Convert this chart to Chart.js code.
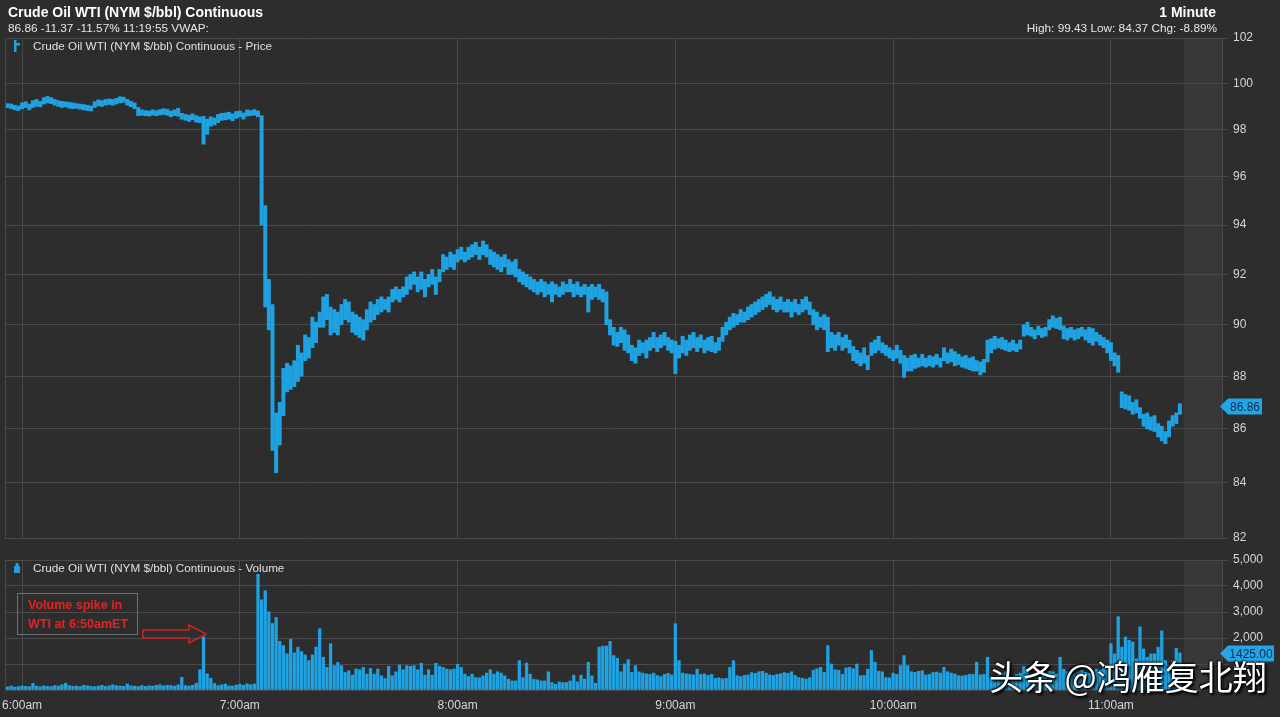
<!DOCTYPE html>
<html>
<head>
<meta charset="utf-8">
<script src="https://cdn.jsdelivr.net/npm/chart.js@4.4.1/dist/chart.umd.min.js"></script>
<style>
  body { margin: 0; background: #2d2d2d; }
  #wrap { position: relative; width: 1280px; height: 717px; overflow: hidden; font-family: "Liberation Sans", Arial, sans-serif; }
  canvas { position: absolute; left: 0; }
  .txt { position: absolute; white-space: nowrap; }
  .title { left: 8px; top: 4px; font: bold 14px/16px "Liberation Sans", Arial, sans-serif; color: #ffffff; }
  .sub { left: 8px; top: 21px; font: 11.8px/14px "Liberation Sans", Arial, sans-serif; color: #e6e6e6; }
  .rtitle { right: 64px; top: 4px; font: bold 14px/16px "Liberation Sans", Arial, sans-serif; color: #ffffff; }
  .rsub { right: 63px; top: 21px; font: 11.8px/14px "Liberation Sans", Arial, sans-serif; color: #e6e6e6; }
  .legend { left: 33px; font: 11.7px/14px "Liberation Sans", Arial, sans-serif; color: #e0e0e0; }
  .note { left: 17px; top: 593px; width: 121px; height: 42px; border: 1px solid #707070;
          font: bold 12.5px/19px "Liberation Sans", Arial, sans-serif; color: #e52222; padding: 2px 0 0 10px; box-sizing: border-box; }
  .mark { left: 989px; top: 656px; font: 34px/40px "Noto Sans CJK SC", sans-serif; color: #ffffff;
          text-shadow: 1px 1px 2px #000, -1px -1px 2px #000, 2px 2px 3px #000; }
</style>
</head>
<body>
<div id="wrap">
  <canvas id="priceCanvas" width="1280" height="548" style="top:0"></canvas>
  <canvas id="volCanvas" width="1280" height="169" style="top:549px"></canvas>

  <div class="txt title">Crude Oil WTI (NYM $/bbl) Continuous</div>
  <div class="txt sub">86.86 -11.37 -11.57% 11:19:55 VWAP:</div>
  <div class="txt rtitle">1 Minute</div>
  <div class="txt rsub">High: 99.43 Low: 84.37 Chg: -8.89%</div>

  <svg style="position:absolute;left:12px;top:40px" width="10" height="12">
    <rect x="2" y="0" width="2.5" height="12" fill="#1fa2e2"/><rect x="4" y="3" width="4" height="2.5" fill="#1fa2e2"/>
  </svg>
  <div class="txt legend" style="top:39px">Crude Oil WTI (NYM $/bbl) Continuous - Price</div>
  <svg style="position:absolute;left:13px;top:562px" width="9" height="12">
    <rect x="1" y="4" width="6" height="7" fill="#1fa2e2"/><rect x="2.5" y="1" width="3" height="4" fill="#1fa2e2"/>
  </svg>
  <div class="txt legend" style="top:561px">Crude Oil WTI (NYM $/bbl) Continuous - Volume</div>

  <div class="txt note">Volume spike in<br>WTI at 6:50amET</div>
  <svg style="position:absolute;left:0;top:0" width="1280" height="717">
    <polygon points="143,630 189,630 189,625 206,634 189,643 189,638 143,638" fill="none" stroke="#d42020" stroke-width="1.6"/>
  </svg>

  <div class="txt mark">头条 @鸿雁复北翔</div>
</div>

<script>
// minutes counted from 6:00am, first bar is 5:56am
const firstMinute = -4
const hourTicks = [0, 60, 120, 180, 240, 300]
const hourLabels = ["6:00am", "7:00am", "8:00am", "9:00am", "10:00am", "11:00am"]
const priceTicks = [82, 84, 86, 88, 90, 92, 94, 96, 98, 100, 102]
const volumeTicks = [0, 1000, 2000, 3000, 4000, 5000]
const lastClose = 86.86

const priceHigh = [
  99.12,99.10,99.05,99.02,99.15,99.20,99.10,99.25,99.30,99.22,
  99.38,99.43,99.38,99.30,99.25,99.22,99.20,99.18,99.15,99.12,
  99.10,99.08,99.05,99.02,99.20,99.28,99.25,99.30,99.32,99.30,
  99.35,99.42,99.40,99.30,99.22,99.15,98.95,98.85,98.82,98.80,
  98.85,98.82,98.86,98.90,98.88,98.80,98.85,98.92,98.70,98.65,
  98.62,98.68,98.60,98.55,98.57,98.45,98.55,98.50,98.65,98.70,
  98.72,98.75,98.68,98.78,98.80,98.72,98.85,98.82,98.86,98.80,
  98.60,94.80,91.80,90.80,86.60,87.00,88.30,88.50,88.40,88.60,
  89.20,88.90,89.60,89.50,90.30,90.10,90.50,91.10,91.20,90.70,
  90.60,90.50,90.80,91.00,90.90,90.50,90.40,90.30,90.20,90.60,
  90.90,90.80,91.00,91.10,91.00,91.10,91.40,91.50,91.40,91.50,
  91.90,92.00,92.10,91.90,92.10,91.80,92.00,92.20,91.90,92.20,
  92.80,92.70,92.90,92.80,93.00,93.10,92.90,93.10,93.20,93.30,
  93.10,93.35,93.20,93.00,92.90,92.80,92.70,92.80,92.60,92.50,
  92.60,92.20,92.10,92.00,91.90,91.80,91.70,91.80,91.70,91.60,
  91.70,91.60,91.50,91.70,91.60,91.80,91.60,91.70,91.50,91.60,
  91.50,91.60,91.50,91.60,91.40,91.30,90.20,89.90,89.70,89.90,
  89.80,89.60,89.20,89.10,89.40,89.30,89.40,89.50,89.70,89.50,
  89.60,89.70,89.50,89.40,89.35,89.20,89.55,89.40,89.60,89.70,
  89.50,89.60,89.40,89.50,89.55,89.30,89.50,89.90,90.10,90.30,
  90.45,90.40,90.60,90.50,90.70,90.80,90.90,91.00,91.10,91.20,
  91.30,91.10,91.00,91.10,90.90,91.00,90.90,91.00,90.80,91.00,
  91.10,90.90,90.60,90.50,90.30,90.40,90.30,89.70,89.60,89.70,
  89.50,89.60,89.40,89.15,89.00,88.90,89.10,88.80,89.30,89.40,
  89.55,89.30,89.20,89.10,89.00,89.20,89.00,88.80,88.70,88.80,
  88.85,88.70,88.85,88.70,88.80,88.75,88.85,88.70,89.10,88.90,
  89.05,88.95,88.85,88.75,88.80,88.70,88.75,88.60,88.55,88.65,
  89.40,89.45,89.55,89.45,89.50,89.40,89.30,89.40,89.25,89.40,
  90.00,90.10,89.90,89.80,89.95,89.85,89.90,90.20,90.35,90.25,
  90.30,89.95,89.85,89.90,89.80,89.85,89.90,89.80,89.90,89.85,
  89.70,89.60,89.50,89.40,89.30,88.90,88.80,87.40,87.30,87.25,
  87.00,87.10,86.80,86.55,86.60,86.45,86.50,86.20,86.10,85.90,
  86.30,86.50,86.60,86.95
]

const priceLow = [
  98.95,98.90,98.85,98.82,98.90,98.95,98.85,98.95,99.00,98.98,
  99.10,99.15,99.12,99.05,99.00,98.95,98.98,98.92,98.90,98.92,
  98.88,98.85,98.82,98.80,98.95,99.02,99.00,99.05,99.08,99.05,
  99.10,99.15,99.18,99.05,98.98,98.90,98.60,98.62,98.60,98.58,
  98.62,98.60,98.63,98.65,98.62,98.55,98.60,98.58,98.45,98.40,
  98.35,98.42,98.32,98.30,97.38,97.80,98.15,98.20,98.30,98.40,
  98.42,98.45,98.38,98.48,98.55,98.45,98.58,98.60,98.62,98.55,
  94.00,90.70,89.80,85.20,84.37,85.40,86.50,87.40,87.50,87.60,
  87.80,88.00,88.60,88.70,89.10,89.30,89.90,89.90,90.20,89.60,
  89.70,89.60,90.00,90.20,90.10,89.70,89.60,89.50,89.40,89.80,
  90.10,90.20,90.40,90.50,90.60,90.50,90.90,91.00,90.90,91.10,
  91.20,91.40,91.60,91.30,91.40,91.10,91.50,91.60,91.20,91.70,
  92.10,92.20,92.30,92.20,92.50,92.60,92.50,92.60,92.70,92.80,
  92.60,92.80,92.70,92.40,92.30,92.20,92.10,92.30,92.00,92.00,
  91.90,91.70,91.60,91.50,91.40,91.30,91.20,91.30,91.10,91.20,
  90.90,91.20,91.10,91.20,91.30,91.30,91.10,91.20,91.10,91.20,
  90.50,91.00,91.10,91.00,90.90,90.00,89.60,89.20,89.15,89.30,
  89.00,88.90,88.60,88.50,88.80,88.90,88.70,89.00,89.10,88.95,
  89.10,89.20,89.00,88.90,88.10,88.70,88.90,88.80,89.00,89.10,
  88.95,89.10,88.90,89.00,88.95,88.90,89.00,89.35,89.60,89.80,
  89.90,90.00,90.10,90.10,90.20,90.30,90.40,90.50,90.60,90.70,
  90.80,90.60,90.50,90.60,90.50,90.50,90.30,90.50,90.40,90.50,
  90.60,90.40,90.00,89.80,89.90,89.80,88.95,89.10,89.00,89.20,
  89.00,89.10,88.90,88.60,88.50,88.40,88.50,88.25,88.80,88.90,
  89.00,88.90,88.80,88.70,88.60,88.70,88.50,87.95,88.20,88.20,
  88.30,88.35,88.40,88.35,88.40,88.35,88.45,88.35,88.60,88.50,
  88.55,88.40,88.45,88.35,88.30,88.25,88.20,88.20,88.05,88.15,
  88.55,88.90,89.05,89.10,89.05,89.00,88.95,89.00,88.95,89.05,
  89.55,89.60,89.55,89.45,89.60,89.50,89.55,89.80,89.90,89.85,
  89.80,89.45,89.40,89.50,89.40,89.45,89.55,89.40,89.30,89.20,
  89.35,89.20,89.10,88.90,88.60,88.40,88.15,86.80,86.75,86.70,
  86.55,86.60,86.40,86.10,86.00,85.95,85.90,85.70,85.55,85.45,
  85.70,86.10,86.20,86.55
]

const volume = [
  120,150,110,130,160,140,130,250,150,120,
  160,140,130,170,150,200,260,170,140,150,
  130,180,160,140,130,150,180,140,160,200,
  170,150,140,230,160,150,130,170,140,160,
  150,180,200,160,180,170,150,200,490,170,
  150,180,260,780,
  2050,620,450,250,170,200,230,160,150,190,220,180,240,200,230,
  4450,3470,3820,3010,2560,2790,
  1870,1710,1390,1950,1430,1650,1480,1350,1130,1350,1650,
  2360,1260,870,1780,935,1060,935,675,740,570,805,
  780,870,610,830,610,805,545,440,910,545,700,
  960,780,935,910,935,780,1025,570,780,570,1025,
  910,870,805,780,805,985,870,610,520,610,480,
  470,545,650,780,610,700,650,545,415,350,350,1130,
  480,1040,610,415,390,350,350,700,285,220,
  310,285,285,350,570,310,570,415,1065,545,260,
  1650,1690,1690,1870,1325,1220,700,1000,1170,675,935,700,
  650,620,600,650,560,520,600,640,580,
  2550,
  1130,650,620,600,580,800,600,620,560,600,
  450,470,430,450,870,1130,550,520,560,580,
  670,640,700,720,650,580,560,600,620,670,
  640,700,560,480,450,420,470,760,820,870,
  680,1710,1000,780,760,600,850,870,820,1000,
  550,560,800,1520,1070,720,700,480,470,650,
  600,935,1325,935,700,680,720,740,580,600,
  670,690,650,870,700,650,620,550,540,560,
  600,600,1070,580,600,1260,
  520,480,560,640,700,580,520,600,650,900,
  760,620,580,540,600,680,720,700,600,1260,
  800,700,650,620,700,760,680,640,720,800,
  760,850,900,
  1780,1390,2820,1650,2040,1910,1845,1200,2430,1580,
  1260,1390,1390,1650,2270,1130,935,1130,1600,1425
]

const BLUE = "#1fa2e2"
const GRID = "#4a4a4a"
const TEXT = "#d6d6d6"
const FONT = "'Liberation Sans', Arial, sans-serif"
Chart.defaults.font.family = FONT

const xMin = -4.7
const xMax = 330.6
const futureFrom = 320

const priceBars = priceHigh.map((h, i) => ({ x: firstMinute + i, y: [priceLow[i], h] }))
const volumeBars = volume.map((v, i) => ({ x: firstMinute + i, y: v }))

// cadre, zone grisée à droite (après la dernière barre)
const panelFrame = {
  id: "panelFrame",
  beforeDraw(chart) {
    const { ctx, chartArea: a, scales } = chart
    const fx = scales.x.getPixelForValue(futureFrom)
    ctx.save()
    ctx.fillStyle = "#383838"
    ctx.fillRect(fx, a.top, a.right - fx, a.bottom - a.top)
    ctx.restore()
  },
  afterDraw(chart) {
    const { ctx, chartArea: a } = chart
    ctx.save()
    ctx.strokeStyle = GRID
    ctx.lineWidth = 1
    ctx.beginPath()
    ctx.moveTo(a.left + 0.5, a.top)
    ctx.lineTo(a.left + 0.5, a.bottom)
    ctx.stroke()
    ctx.restore()
  }
}

// étiquette bleue de la dernière valeur sur l'axe droit
function lastTag(value, text, w) {
  return {
    id: "lastTag",
    afterDraw(chart) {
      const { ctx, chartArea: a, scales } = chart
      const y = Math.round(scales.y.getPixelForValue(value)) + 0.5
      const x = a.right - 2
      ctx.save()
      ctx.fillStyle = "#22a6e6"
      ctx.beginPath()
      ctx.moveTo(x, y)
      ctx.lineTo(x + 8, y - 8)
      ctx.lineTo(x + w, y - 8)
      ctx.lineTo(x + w, y + 8)
      ctx.lineTo(x + 8, y + 8)
      ctx.closePath()
      ctx.fill()
      ctx.fillStyle = "#0b2d4d"
      ctx.font = "12px " + FONT
      ctx.textAlign = "center"
      ctx.textBaseline = "middle"
      ctx.fillText(text, x + 4 + w / 2, y + 1)
      ctx.restore()
    }
  }
}

function xScale(showLabels) {
  return {
    type: "linear",
    min: xMin,
    max: xMax,
    offset: false,
    afterBuildTicks: s => { s.ticks = hourTicks.map(v => ({ value: v })) },
    afterFit: s => {
      s.height = showLabels ? 28 : 0
      s.paddingLeft = 0
      s.paddingRight = 0
    },
    grid: { color: GRID, drawTicks: false, offset: false },
    border: { display: false },
    ticks: {
      display: showLabels,
      color: TEXT,
      font: { size: 12 },
      padding: 8,
      maxRotation: 0,
      callback: v => hourLabels[hourTicks.indexOf(v)]
    }
  }
}

function rightFit(s) {
  s.width = 58
  s.paddingTop = 0
  s.paddingBottom = 0
}

new Chart(document.getElementById("priceCanvas"), {
  type: "bar",
  data: {
    datasets: [{
      data: priceBars,
      backgroundColor: BLUE,
      borderWidth: 0,
      barThickness: 3.3,
      grouped: false
    }]
  },
  options: {
    responsive: false,
    animation: false,
    layout: { padding: { left: 5, top: 38, right: 0, bottom: 10 } },
    plugins: { legend: { display: false }, tooltip: { enabled: false } },
    scales: {
      x: xScale(false),
      y: {
        type: "logarithmic",
        position: "right",
        min: 82,
        max: 102,
        afterBuildTicks: s => { s.ticks = priceTicks.map(v => ({ value: v })) },
        afterFit: rightFit,
        grid: { color: GRID, tickLength: 6 },
        border: { color: GRID },
        ticks: { color: TEXT, font: { size: 12 }, padding: 5, callback: v => String(v) }
      }
    }
  },
  plugins: [panelFrame, lastTag(lastClose, lastClose.toFixed(2), 42)]
})

new Chart(document.getElementById("volCanvas"), {
  type: "bar",
  data: {
    datasets: [{
      data: volumeBars,
      backgroundColor: BLUE,
      borderWidth: 0,
      barThickness: 2.6,
      grouped: false
    }]
  },
  options: {
    responsive: false,
    animation: false,
    layout: { padding: { left: 5, top: 11, right: 0, bottom: 0 } },
    plugins: { legend: { display: false }, tooltip: { enabled: false } },
    scales: {
      x: xScale(true),
      y: {
        type: "linear",
        position: "right",
        min: 0,
        max: 5000,
        afterBuildTicks: s => { s.ticks = volumeTicks.map(v => ({ value: v })) },
        afterFit: rightFit,
        grid: { color: GRID, tickLength: 6 },
        border: { color: GRID },
        ticks: {
          color: TEXT,
          font: { size: 12 },
          padding: 5,
          callback: v => v === 0 ? "" : v.toLocaleString("en-US")
        }
      }
    }
  },
  plugins: [panelFrame, lastTag(volume[volume.length - 1], volume[volume.length - 1].toFixed(2), 54)]
})
</script>
</body>
</html>
